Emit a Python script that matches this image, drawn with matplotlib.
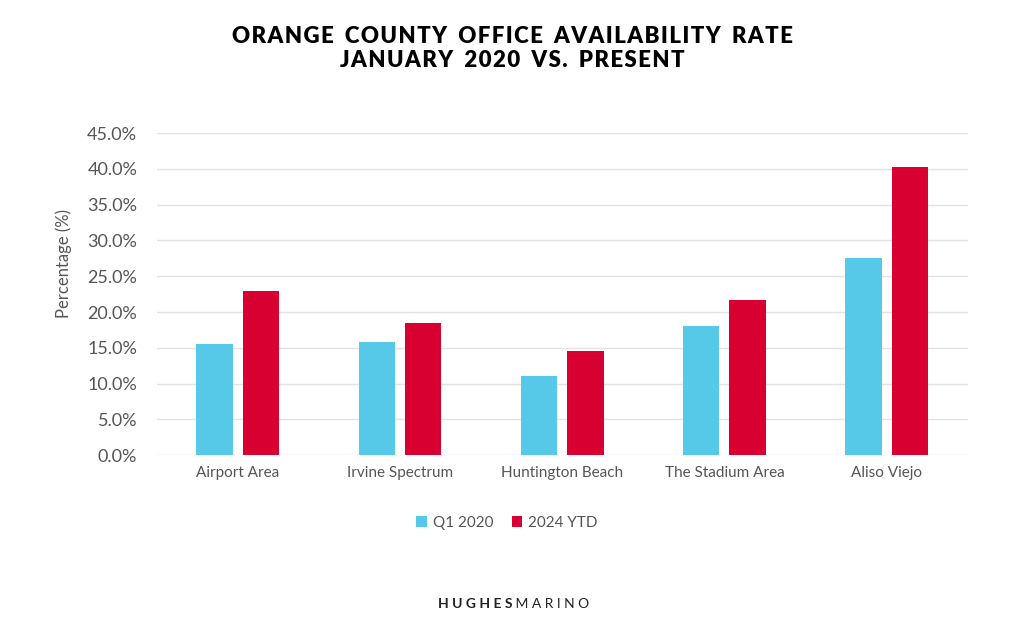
import numpy as np
import matplotlib.pyplot as plt
from matplotlib.ticker import FuncFormatter

# data
areas = ['Airport Area', 'Irvine Spectrum', 'Huntington Beach', 'The Stadium Area', 'Aliso Viejo']
q1_2020 = [15.5, 15.8, 11.0, 18.0, 27.6]
ytd_2024 = [23.0, 18.5, 14.6, 21.7, 40.2]
series_names = ['Q1 2020', '2024 YTD']

c_blue = '#56C8E8'
c_red = '#D80031'
grey = '#555555'

plt.rcParams['font.family'] = ['Lato', 'DejaVu Sans']


def spaced(s):
    # wide tracking like the original title font
    return '\u2002'.join('\u200a'.join(word) for word in s.split(' '))


fig = plt.figure(figsize=(10.24, 6.34), dpi=100)
ax = fig.add_axes([0.153, 0.282, 0.792, 0.508])

x = np.arange(len(areas))
w = 0.225
ax.bar(x - 0.143, q1_2020, w, color=c_blue, label=series_names[0])
ax.bar(x + 0.143, ytd_2024, w, color=c_red, label=series_names[1])

ax.set_xlim(-0.5, len(areas) - 0.5)
ax.set_ylim(0, 45)
ax.set_yticks(np.arange(0, 46, 5))
ax.yaxis.set_major_formatter(FuncFormatter(lambda v, p: f'{v:.1f}%'))
ax.set_xticks(x)
ax.set_xticklabels(areas)
ax.grid(axis='y', color='#e3e3e3', linewidth=1)
ax.set_axisbelow(True)
for s in ax.spines.values():
    s.set_visible(False)
ax.tick_params(axis='both', length=0, colors=grey)
ax.tick_params(axis='y', labelsize=13, pad=14)
ax.tick_params(axis='x', labelsize=11, pad=8)
ax.set_ylabel('Percentage (%)', fontsize=12, color=grey, labelpad=10)
ax.yaxis.set_label_coords(-0.105, 0.594)

fig.text(0.5, 0.943, spaced('ORANGE COUNTY OFFICE AVAILABILITY RATE'),
         ha='center', va='center', fontsize=16, fontweight='heavy', color='black')
fig.text(0.5, 0.905, spaced('JANUARY 2020 VS. PRESENT'),
         ha='center', va='center', fontsize=16, fontweight='heavy', color='black')

leg = fig.legend(loc='center', bbox_to_anchor=(0.495, 0.175), ncol=2, frameon=False,
                 fontsize=11, handlelength=0.7, handleheight=0.7, handletextpad=0.4,
                 columnspacing=1.2)
for t in leg.get_texts():
    t.set_color(grey)

fig.text(0.5, 0.048, 'H U G H E S', ha='right', va='center', fontsize=10,
         fontweight='bold', color='#222222')
fig.text(0.5, 0.048, ' M A R I N O', ha='left', va='center', fontsize=10,
         color='#222222')

fig.savefig('out.png', dpi=100)
